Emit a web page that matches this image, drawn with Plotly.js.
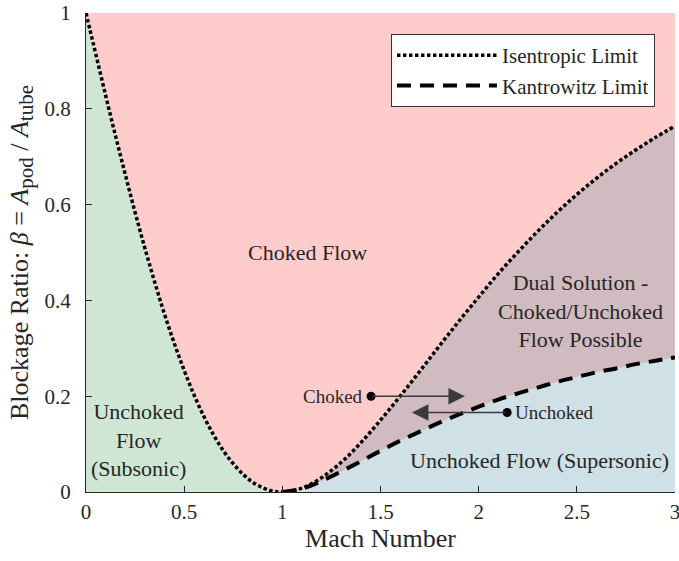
<!DOCTYPE html>
<html>
<head>
<meta charset="utf-8">
<script src="https://cdn.plot.ly/plotly-3.0.1.min.js"></script>
<style>html,body{margin:0;padding:0;background:#fff;}#chart{width:679px;height:561px;}</style>
</head>
<body>
<div id="chart"></div>
<script>
// Subsonic branch of the isentropic limit
const machSub = [0, 0.02, 0.05, 0.1, 0.15, 0.2, 0.25, 0.3, 0.35, 0.4, 0.45, 0.5, 0.55, 0.6, 0.65, 0.7, 0.75, 0.8, 0.85, 0.9, 0.95, 1.0];
const betaIsenSub = [1.0, 0.965, 0.914, 0.828, 0.744, 0.663, 0.584, 0.509, 0.438, 0.371, 0.310, 0.254, 0.203, 0.158, 0.119, 0.086, 0.059, 0.037, 0.020, 0.009, 0.002, 0.0];
// Supersonic branch
const machSup = [1.0, 1.1, 1.2, 1.3, 1.4, 1.5, 1.6, 1.7, 1.8, 1.9, 2.0, 2.1, 2.2, 2.3, 2.4, 2.5, 2.6, 2.7, 2.8, 2.9, 3.0];
const betaIsenSup = [0, 0.008, 0.030, 0.062, 0.103, 0.150, 0.200, 0.252, 0.305, 0.357, 0.407, 0.456, 0.501, 0.544, 0.584, 0.621, 0.655, 0.686, 0.714, 0.740, 0.764];
const betaKant = [0, 0.007, 0.023, 0.043, 0.064, 0.086, 0.107, 0.126, 0.145, 0.162, 0.178, 0.193, 0.206, 0.218, 0.230, 0.240, 0.250, 0.258, 0.267, 0.274, 0.281];

// Tick labels
const xTickVals = [0, 0.5, 1, 1.5, 2, 2.5, 3];
const xTickText = ['0', '0.5', '1', '1.5', '2', '2.5', '3'];
const yTickVals = [0, 0.2, 0.4, 0.6, 0.8, 1];
const yTickText = ['0', '0.2', '0.4', '0.6', '0.8', '1'];

// Region labels
const regionText = ['Choked Flow', 'Unchoked<br>Flow<br>(Subsonic)', 'Dual Solution -<br>Choked/Unchoked<br>Flow Possible', 'Unchoked Flow (Supersonic)'];
const regionMach = [1.126, 0.266, 2.517, 2.308];
const regionBeta = [0.5, 0.108, 0.378, 0.065];

// Marker points with arrows
const markerText = ['Choked', 'Unchoked'];
const markerMach = [1.452, 2.145];
const markerBeta = [0.2, 0.166];
const arrowTipMach = [1.93, 1.66];

const machAll = machSub.concat(machSup.slice(1));
const betaIsenAll = betaIsenSub.concat(betaIsenSup.slice(1));

const FONT = '"Liberation Serif", "Times New Roman", serif';
const TXT = '#262626';

const traces = [
  {x: machSub, y: betaIsenSub, type: 'scatter', mode: 'lines', fill: 'tozeroy',
   fillcolor: 'rgb(208,230,213)', line: {width: 0, shape: 'spline'}, showlegend: false, hoverinfo: 'skip'},
  {x: machSup, y: betaIsenSup, type: 'scatter', mode: 'lines', fill: 'tozeroy',
   fillcolor: 'rgb(208,188,192)', line: {width: 0, shape: 'spline'}, showlegend: false, hoverinfo: 'skip'},
  {x: machSup, y: betaKant, type: 'scatter', mode: 'lines', fill: 'tozeroy',
   fillcolor: 'rgb(207,224,230)', line: {width: 0, shape: 'spline'}, showlegend: false, hoverinfo: 'skip'},
  {x: machAll, y: betaIsenAll, type: 'scatter', mode: 'lines', name: 'Isentropic Limit',
   line: {color: '#000', width: 3.5, dash: '3.5px,2.5px', shape: 'spline'}},
  {x: machSup, y: betaKant, type: 'scatter', mode: 'lines', name: 'Kantrowitz Limit',
   line: {color: '#000', width: 4, dash: '14px,9px', shape: 'spline'}},
  {x: markerMach, y: markerBeta, type: 'scatter', mode: 'markers', showlegend: false,
   marker: {color: '#000', size: 9}, hoverinfo: 'skip'}
];

const annotations = [];
for (let i = 0; i < regionText.length; i++) {
  annotations.push({x: regionMach[i], y: regionBeta[i], xref: 'x', yref: 'y', text: regionText[i],
    showarrow: false, font: {family: FONT, size: 22, color: TXT}, align: 'center'});
}
for (let i = 0; i < markerText.length; i++) {
  annotations.push({x: arrowTipMach[i], y: markerBeta[i], xref: 'x', yref: 'y', ax: markerMach[i], ay: markerBeta[i],
    axref: 'x', ayref: 'y', text: '', showarrow: true, arrowhead: 2, arrowsize: 2.2, arrowwidth: 1.5, arrowcolor: '#3a3a3a'});
  annotations.push({x: markerMach[i], y: markerBeta[i], xref: 'x', yref: 'y', text: markerText[i], showarrow: false,
    xanchor: i === 0 ? 'right' : 'left', xshift: i === 0 ? -6 : 6, font: {family: FONT, size: 19, color: TXT}});
}

const layout = {
  width: 679, height: 561,
  margin: {l: 86, r: 4, t: 13, b: 69},
  paper_bgcolor: '#fff',
  plot_bgcolor: 'rgb(255,204,204)',
  font: {family: FONT, color: TXT, size: 20},
  xaxis: {range: [0, 3], tickvals: xTickVals, ticktext: xTickText, ticks: 'inside', ticklen: 6,
    tickcolor: TXT, showline: true, linecolor: TXT, linewidth: 1, showgrid: false, zeroline: false,
    tickfont: {family: FONT, size: 21, color: TXT}, ticklabelstandoff: 1, ticklabeloverflow: 'allow',
    title: {text: 'Mach Number', font: {family: FONT, size: 26, color: TXT}, standoff: 4}},
  yaxis: {range: [0, 1], tickvals: yTickVals, ticktext: yTickText, ticks: 'inside', ticklen: 6,
    tickcolor: TXT, showline: true, linecolor: TXT, linewidth: 1, showgrid: false, zeroline: false,
    tickfont: {family: FONT, size: 21, color: TXT}, ticklabelstandoff: 10, ticklabeloverflow: 'allow',
    title: {text: 'Blockage Ratio: <i>β</i> = <i>A</i><sub><span style="font-size:21px">pod</span></sub> / <i>A</i><sub><span style="font-size:21px">tube</span></sub>', font: {family: FONT, size: 26, color: TXT}, standoff: 8}},
  legend: {x: 0.966, y: 0.956, xanchor: 'right', yanchor: 'top', bgcolor: '#fff', bordercolor: '#333', borderwidth: 1,
    font: {family: FONT, size: 21, color: TXT}, itemwidth: 100},
  annotations: annotations,
  showlegend: true
};

Plotly.newPlot('chart', traces, layout, {displayModeBar: false, staticPlot: true});
</script>
</body>
</html>
